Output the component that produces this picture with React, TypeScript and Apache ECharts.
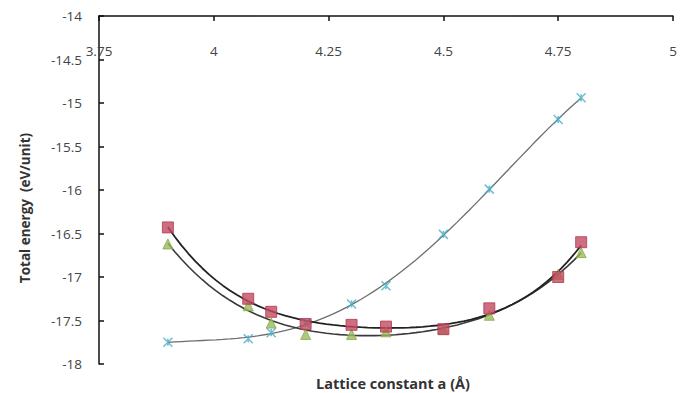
import React, { useEffect, useRef } from "react";
import * as echarts from "echarts";

const latticeA = [3.9, 4.075, 4.125, 4.2, 4.3, 4.375, 4.5, 4.6, 4.75, 4.8];
const energyRed = [-16.43, -17.25, -17.4, -17.54, -17.55, -17.57, -17.6, -17.36, -17.0, -16.6];
const energyGreen = [-16.62, -17.33, -17.53, -17.66, -17.66, -17.63, -17.6, -17.44, -16.97, -16.72];
const energyAqua = [-17.75, -17.71, -17.64, -17.53, -17.31, -17.1, -16.51, -15.99, -15.19, -14.94];
const xTicks = { min: 3.75, max: 5, step: 0.25 };
const yTicks = { min: -18, max: -14, step: 0.5 };
const xTitle = "Lattice constant a (Å)";
const yTitle = "Total energy  (eV/unit)";

const pairs = (ys: number[]) => latticeA.map((x, i) => [x, ys[i]]);

// least-squares polynomial trendline (like a spreadsheet "polynomial" trendline)
function polyfit(xs: number[], ys: number[], deg: number): number[] {
  const n = deg + 1;
  const A: number[][] = Array.from({ length: n }, () => new Array(n + 1).fill(0));
  for (let k = 0; k < xs.length; k++) {
    const t = xs[k] - 4.35;
    for (let i = 0; i < n; i++) {
      for (let j = 0; j < n; j++) A[i][j] += Math.pow(t, i + j);
      A[i][n] += ys[k] * Math.pow(t, i);
    }
  }
  for (let c = 0; c < n; c++) {
    let p = c;
    for (let r = c + 1; r < n; r++) if (Math.abs(A[r][c]) > Math.abs(A[p][c])) p = r;
    [A[c], A[p]] = [A[p], A[c]];
    for (let r = 0; r < n; r++) {
      if (r === c) continue;
      const f = A[r][c] / A[c][c];
      for (let j = c; j <= n; j++) A[r][j] -= f * A[c][j];
    }
  }
  return A.map((row, i) => row[n] / A[i][i]);
}
function trend(ys: number[], deg: number): number[][] {
  const co = polyfit(latticeA, ys, deg);
  const x0 = latticeA[0];
  const x1 = latticeA[latticeA.length - 1];
  const out: number[][] = [];
  for (let k = 0; k <= 60; k++) {
    const x = x0 + ((x1 - x0) * k) / 60;
    const t = x - 4.35;
    out.push([x, co.reduce((s, c, i) => s + c * Math.pow(t, i), 0)]);
  }
  return out;
}

export default function App() {
  const ref = useRef<HTMLDivElement>(null);
  useEffect(() => {
    document.body.style.margin = "0";
    if (!ref.current) return;
    const chart = echarts.init(ref.current, null, { renderer: "svg" });
    const font = "'Open Sans', 'Liberation Sans', sans-serif";
    const trendStyle = (c: string, w: number) => ({
      type: "line",
      smooth: false,
      symbol: "none",
      silent: true,
      lineStyle: { color: c, width: w },
      z: 1,
    });
    chart.setOption({
      animation: false,
      backgroundColor: "#ffffff",
      grid: { left: 99, top: 16, right: 15, bottom: 29, containLabel: false },
      xAxis: {
        type: "value",
        position: "top",
        min: xTicks.min,
        max: xTicks.max,
        interval: xTicks.step,
        axisLine: { onZero: false, lineStyle: { color: "#111", width: 1.5 } },
        axisTick: { inside: true, length: 5, lineStyle: { color: "#111", width: 1.5 } },
        axisLabel: { inside: true, margin: 28, color: "#444", fontSize: 13.5, fontFamily: font },
        splitLine: { show: false },
      },
      yAxis: {
        type: "value",
        min: yTicks.min,
        max: yTicks.max,
        interval: yTicks.step,
        axisLine: { onZero: false, lineStyle: { color: "#111", width: 1.5 } },
        axisTick: { inside: true, length: 5, lineStyle: { color: "#111", width: 1.5 } },
        axisLabel: { margin: 17, color: "#444", fontSize: 13.5, fontFamily: font },
        splitLine: { show: false },
      },
      graphic: [
        {
          type: "text",
          x: 393,
          y: 383,
          style: {
            text: xTitle,
            fill: "#333",
            font: `bold 14.5px ${font}`,
            textAlign: "center",
            textVerticalAlign: "middle",
          },
        },
        {
          type: "text",
          x: 25,
          y: 208,
          rotation: Math.PI / 2,
          style: {
            text: yTitle,
            fill: "#333",
            font: `bold 13.5px ${font}`,
            textAlign: "center",
            textVerticalAlign: "middle",
          },
        },
      ],
      series: [
        { ...trendStyle("#6e6e6e", 1.3), name: "aqua fit", data: trend(energyAqua, 4) },
        { ...trendStyle("#3a3a3a", 1.6), name: "green fit", data: trend(energyGreen, 4) },
        { ...trendStyle("#222222", 1.8), name: "red fit", data: trend(energyRed, 4) },
        {
          type: "scatter",
          name: "aqua",
          data: pairs(energyAqua),
          symbol: "path://M0,0L10,10M10,0L0,10M5,1L5,9",
          symbolSize: 9,
          itemStyle: { color: "none", borderColor: "#4BACC6", borderWidth: 1.5 },
          z: 2,
        },
        {
          type: "scatter",
          name: "green",
          data: pairs(energyGreen),
          symbol: "triangle",
          symbolSize: 10,
          itemStyle: { color: "#9BBB59", borderColor: "#8aa84c", borderWidth: 1 },
          z: 3,
        },
        {
          type: "scatter",
          name: "red",
          data: pairs(energyRed),
          symbol: "rect",
          symbolSize: 11,
          itemStyle: { color: "#C24A60", borderColor: "#B03A50", borderWidth: 1 },
          z: 4,
        },
      ],
    });
    return () => chart.dispose();
  }, []);
  return <div ref={ref} style={{ width: 688, height: 393 }} />;
}
